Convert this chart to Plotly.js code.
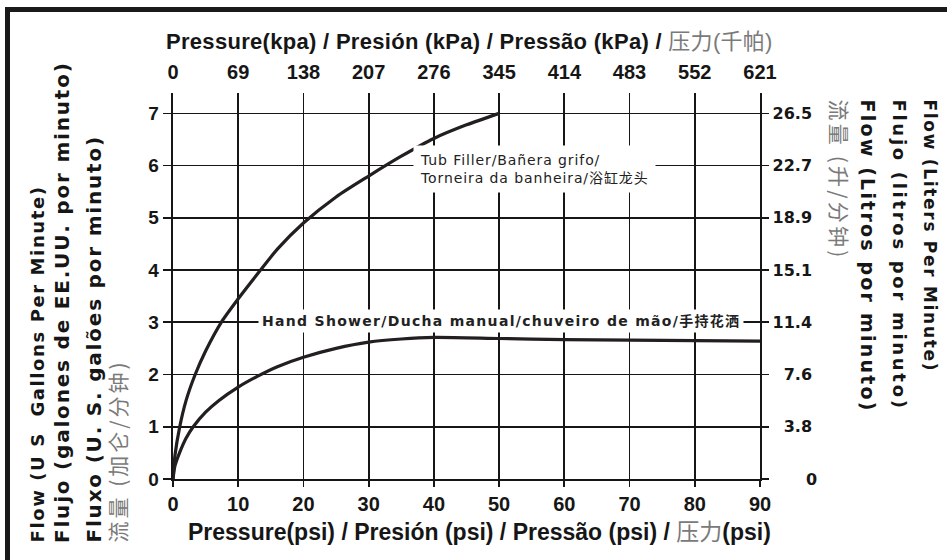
<!DOCTYPE html>
<html><head><meta charset="utf-8">
<script src="https://cdn.plot.ly/plotly-3.0.1.min.js"></script>
<style>html,body{margin:0;padding:0;background:#fff;} #chart{width:947px;height:560px;}</style>
</head><body><div id="chart"></div>
<script>
// ---- data ----
const psiTicks   = [0, 10, 20, 30, 40, 50, 60, 70, 80, 90];
const kpaLabels  = ['0', '69', '138', '207', '276', '345', '414', '483', '552', '621'];
const gpmTicks   = [0, 1, 2, 3, 4, 5, 6, 7];
const lpmLabels  = ['0', '3.8', '7.6', '11.4', '15.1', '18.9', '22.7', '26.5'];

const tubPsi  = [0, 0.3, 1, 2, 3.4, 5, 7.4, 10, 13.3, 16, 20, 25, 30, 35, 40, 45, 50];
const tubGpm  = [0, 0.45, 0.98, 1.5, 2.0, 2.45, 3.0, 3.45, 3.98, 4.4, 4.9, 5.4, 5.8, 6.18, 6.52, 6.78, 7.0];
const handPsi = [0, 0.3, 1, 2, 3.1, 5, 7, 10, 13, 16, 20, 25, 30, 35, 40, 50, 60, 70, 80, 90];
const handGpm = [0, 0.25, 0.5, 0.78, 1.0, 1.28, 1.5, 1.76, 1.97, 2.15, 2.33, 2.5, 2.62, 2.68, 2.71, 2.69, 2.67, 2.66, 2.65, 2.64];

const tubLabelLines = ['Tub Filler/Bañera grifo/', 'Torneira da banheira/浴缸龙头'];
const handLabel = 'Hand Shower/Ducha manual/chuveiro de mão/手持花洒';
const GREY = '#7a7a7a';
const topTitle    = 'Pressure(kpa) / Presión (kPa) / Pressão (kPa) / <span style="color:' + GREY + ';font-weight:normal">压力(千帕)</span>';
const bottomTitle = 'Pressure(psi) / Presión (psi) / Pressão (psi) / <span style="color:' + GREY + ';font-weight:normal">压力</span>(psi)';
const leftTitles  = ['Flow (U S  Gallons Per Minute)', 'Flujo (galones de EE.UU. por minuto)', 'Fluxo (U. S. galões por minuto)', '流量 (加仑/分钟)'];
const rightTitles = ['Flow (Liters Per Minute)', 'Flujo (litros por minuto)', 'Flow (Litros por minuto)', '流量 (升/分钟)'];

// ---- layout helpers ----
const W = 947, H = 560, ML = 173, MR = 187, MT = 93, MB = 81;
const PW = W - ML - MR, PH = H - MT - MB;
const PX = x => (x - ML) / PW;
const PY = y => (H - MB - y) / PH;
const INK = '#161616';
const SANS = 'Liberation Sans, Arial, Noto Sans CJK SC, sans-serif';
const WIDE = 'DejaVu Sans, Noto Sans CJK SC, sans-serif';
const CJK = 'Noto Sans CJK SC, sans-serif';
const YMAX = 7.39;
const spaced = (s, px) => '<span style="letter-spacing:' + px + 'px">' + s + '</span>';

const traces = [
  {x: tubPsi, y: tubGpm, mode: 'lines', line: {color: '#231f20', width: 3.2, shape: 'spline', smoothing: 0.7}, hoverinfo: 'skip', showlegend: false},
  {x: handPsi, y: handGpm, mode: 'lines', line: {color: '#231f20', width: 3.2, shape: 'spline', smoothing: 0.7}, hoverinfo: 'skip', showlegend: false},
  {x: tubPsi, y: tubGpm, xaxis: 'x2', yaxis: 'y2', mode: 'markers', marker: {opacity: 0}, hoverinfo: 'skip', showlegend: false}
];

const axisCommon = {fixedrange: true, zeroline: false, linecolor: INK, tickcolor: INK};

function vText(text, cx, yEdge, angle, family, size, color, weight, ls) {
  return {xref: 'paper', yref: 'paper', x: PX(cx), y: PY(yEdge), xanchor: 'center',
    yanchor: angle < 0 ? 'bottom' : 'top', textangle: angle, showarrow: false,
    text: spaced(text, ls), font: {family: family, size: size, color: color, weight: weight || 'normal'}};
}

const layout = {
  width: W, height: H,
  margin: {l: ML, r: MR, t: MT, b: MB, pad: 0},
  paper_bgcolor: '#fff', plot_bgcolor: '#fff',
  showlegend: false,
  xaxis: Object.assign({}, axisCommon, {
    range: [0, 90], tickmode: 'array', tickvals: psiTicks, ticktext: psiTicks.map(String),
    showgrid: true, gridcolor: INK, gridwidth: 1.7,
    showline: true, linewidth: 2.4, ticks: 'outside', ticklen: 6, tickwidth: 1.7,
    tickfont: {family: SANS, size: 20, color: INK, weight: 'bold'}
  }),
  xaxis2: Object.assign({}, axisCommon, {
    overlaying: 'x', side: 'top', range: [0, 90], tickmode: 'array', tickvals: psiTicks, ticktext: kpaLabels,
    showgrid: false, showline: false, ticks: 'outside', ticklen: 5, tickcolor: 'rgba(0,0,0,0)',
    tickfont: {family: SANS, size: 20, color: INK, weight: 'bold'}
  }),
  yaxis: Object.assign({}, axisCommon, {
    range: [0, YMAX], tickmode: 'array', tickvals: gpmTicks, ticktext: gpmTicks.map(String),
    showgrid: true, gridcolor: INK, gridwidth: 1.7,
    showline: true, linewidth: 2.4, ticks: 'outside', ticklen: 8, tickwidth: 1.7,
    tickfont: {family: SANS, size: 19, color: INK, weight: 'bold'}
  }),
  yaxis2: Object.assign({}, axisCommon, {
    overlaying: 'y', side: 'right', range: [0, YMAX], tickmode: 'array', tickvals: gpmTicks,
    ticktext: lpmLabels.map(s => s.padStart(4, '\u2007')),
    showgrid: false, showline: true, linewidth: 2.4, ticks: 'outside', ticklen: 7, tickwidth: 1.7,
    tickfont: {family: WIDE, size: 16, color: INK, weight: 'bold'}
  }),
  annotations: [
    {xref: 'paper', yref: 'paper', x: PX(470), y: PY(42), xanchor: 'center', yanchor: 'middle', showarrow: false,
     text: spaced(topTitle, 0.3), font: {family: SANS, size: 22, color: INK, weight: 'bold'}},
    {xref: 'paper', yref: 'paper', x: PX(479), y: PY(532), xanchor: 'center', yanchor: 'middle', showarrow: false,
     text: bottomTitle, font: {family: SANS, size: 23, color: INK, weight: 'bold'}},
    // left titles (read bottom to top)
    vText(leftTitles[0], 37, 545, -90, WIDE, 18, INK, 'bold', 1.6),
    vText(leftTitles[1], 62, 545, -90, WIDE, 20, INK, 'bold', 1.8),
    vText(leftTitles[2], 93, 545, -90, WIDE, 20, INK, 'bold', 1.8),
    vText(leftTitles[3], 116, 545, -90, CJK, 21, GREY, 'normal', 3),
    // right titles (read top to bottom)
    vText(rightTitles[0], 930, 97, 90, WIDE, 17, INK, 'bold', 1.7),
    vText(rightTitles[1], 899, 97, 90, WIDE, 18, INK, 'bold', 2.7),
    vText(rightTitles[2], 868, 97, 90, WIDE, 19, INK, 'bold', 2.2),
    vText(rightTitles[3], 840, 97, 90, CJK, 21, GREY, 'normal', 3.2),
    // curve labels
    {xref: 'x', yref: 'y', x: 36.8, y: 5.93, xanchor: 'left', yanchor: 'middle', align: 'left', showarrow: false,
     bgcolor: '#fff', borderpad: 6, text: tubLabelLines.map(s => spaced(s, 0.9)).join('<br>'),
     font: {family: WIDE, size: 14, color: '#222'}},
    {xref: 'x', yref: 'y', x: 13.0, y: 3.02, xanchor: 'left', yanchor: 'middle', align: 'left', showarrow: false,
     bgcolor: '#fff', borderpad: 3, text: spaced(handLabel, 1.3), font: {family: WIDE, size: 14, color: '#222', weight: 'bold'}}
  ],
  shapes: [
    {type: 'rect', xref: 'paper', yref: 'paper', x0: PX(5), x1: PX(947), y0: PY(7), y1: PY(12), fillcolor: '#1a1a1a', line: {width: 0}, layer: 'above'},
    {type: 'rect', xref: 'paper', yref: 'paper', x0: PX(5), x1: PX(10), y0: PY(7), y1: PY(560), fillcolor: '#1a1a1a', line: {width: 0}, layer: 'above'}
  ]
};

Plotly.newPlot('chart', traces, layout, {staticPlot: true, displayModeBar: false});
</script>
</body></html>
